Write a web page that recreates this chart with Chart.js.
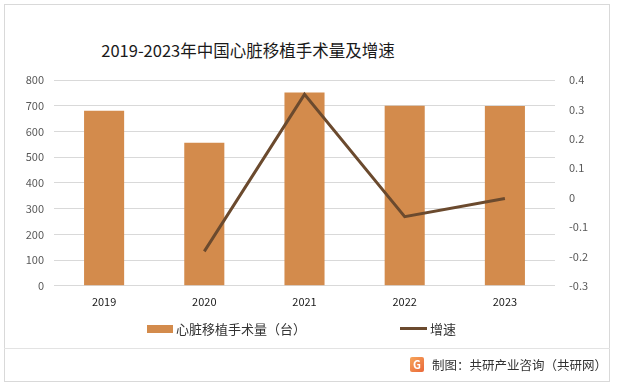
<!DOCTYPE html>
<html>
<head>
<meta charset="utf-8">
<script src="https://cdn.jsdelivr.net/npm/chart.js@4"></script>
<style>
	html, body { margin: 0; padding: 0; background: #fff; }
	#wrap { position: relative; width: 617px; height: 388px; overflow: hidden; font-family: "Noto Sans CJK SC", "Noto Sans", sans-serif; }
	#frame { position: absolute; left: 4px; top: 4px; width: 606px; height: 378px; border: 1px solid #d9d9d9; box-sizing: border-box; }
	#sep { position: absolute; left: 4px; top: 348px; width: 606px; height: 1px; background: #e3e3e3; }
	#title { position: absolute; left: 0; width: 496px; top: 38px; text-align: center; font-size: 16.5px; color: #1a1a1a; }
	#legend { position: absolute; top: 319px; left: 0; font-size: 13px; color: #333; }
	.item { position: absolute; white-space: nowrap; display: flex; align-items: center; }
	.box { width: 26px; height: 8px; margin-right: 3px; }
	.ln { width: 27px; height: 3px; margin-right: 3px; }
	#credit { position: absolute; left: 410px; top: 355px; font-size: 12.5px; color: #333; display: flex; align-items: center; }
	#logo { width: 14px; height: 15px; margin-right: 8px; border-radius: 2px; background: linear-gradient(135deg, #f7a55a, #e9683a); color: #fff; font-size: 11px; font-weight: bold; line-height: 15px; text-align: center; }
	canvas { position: absolute; left: 0; top: 0; }
</style>
</head>
<body>
<div id="wrap">
	<div id="frame"></div>
	<div id="sep"></div>
	<div id="title">2019-2023年中国心脏移植手术量及增速</div>
	<canvas id="chart" width="617" height="388"></canvas>
	<div id="legend"></div>
	<div id="credit"><div id="logo">G</div>制图：共研产业咨询（共研网）</div>
</div>
<script>
	'use strict';

	const years = ['2019', '2020', '2021', '2022', '2023'];
	const surgeries = [680, 556, 751, 700, 699];
	const growth = [null, -0.183, 0.351, -0.065, -0.003];

	const barColor = '#d38b4c';
	const lineColor = '#6b4a2e';
	const tickColor = '#595959';

	const ctx = document.getElementById('chart').getContext('2d');

	const chart = new Chart(ctx, {
		type: 'bar',
		data: {
			labels: years,
			datasets: [
				{
					label: '心脏移植手术量（台）',
					data: surgeries,
					backgroundColor: barColor,
					yAxisID: 'y',
					categoryPercentage: 1,
					barPercentage: 0.4,
					order: 2
				},
				{
					type: 'line',
					label: '增速',
					data: growth,
					borderColor: lineColor,
					backgroundColor: lineColor,
					borderWidth: 3,
					pointRadius: 0,
					tension: 0,
					yAxisID: 'y1',
					order: 1
				}
			]
		},
		options: {
			responsive: false,
			animation: false,
			layout: {
				padding: { top: 80, left: 0, right: 17, bottom: 79 }
			},
			plugins: {
				legend: { display: false },
				tooltip: { enabled: false }
			},
			scales: {
				x: {
					grid: { display: false },
					border: { display: false },
					ticks: {
						color: '#1a1a1a',
						font: { family: '"Noto Sans CJK SC"', size: 11 },
						padding: 1
					}
				},
				y: {
					position: 'left',
					min: 0,
					max: 800,
					ticks: {
						stepSize: 100,
						autoSkip: false,
						color: tickColor,
						font: { family: '"Noto Sans CJK SC"', size: 11 },
						padding: 10
					},
					grid: { color: '#d9d9d9', drawTicks: false },
					border: { display: false },
					afterFit: function(scale) { scale.width = 54; }
				},
				y1: {
					position: 'right',
					min: -0.3,
					max: 0.4,
					ticks: {
						stepSize: 0.1,
						autoSkip: false,
						color: tickColor,
						font: { family: '"Noto Sans CJK SC"', size: 11 },
						padding: 6,
						callback: function(value) {
							return String(Math.round(value * 10) / 10);
						}
					},
					grid: { display: false },
					border: { display: false },
					afterFit: function(scale) { scale.width = 45; }
				}
			}
		}
	});

	// Legend built from the chart's datasets, placed like the original.
	const legendEl = document.getElementById('legend');
	const legendX = [147, 400];
	chart.data.datasets.forEach(function(ds, i) {
		const item = document.createElement('div');
		item.className = 'item';
		item.style.left = legendX[i] + 'px';
		const sw = document.createElement('div');
		sw.className = ds.type === 'line' ? 'ln' : 'box';
		sw.style.background = ds.type === 'line' ? ds.borderColor : ds.backgroundColor;
		item.appendChild(sw);
		item.appendChild(document.createTextNode(ds.label));
		legendEl.appendChild(item);
	});
</script>
</body>
</html>
